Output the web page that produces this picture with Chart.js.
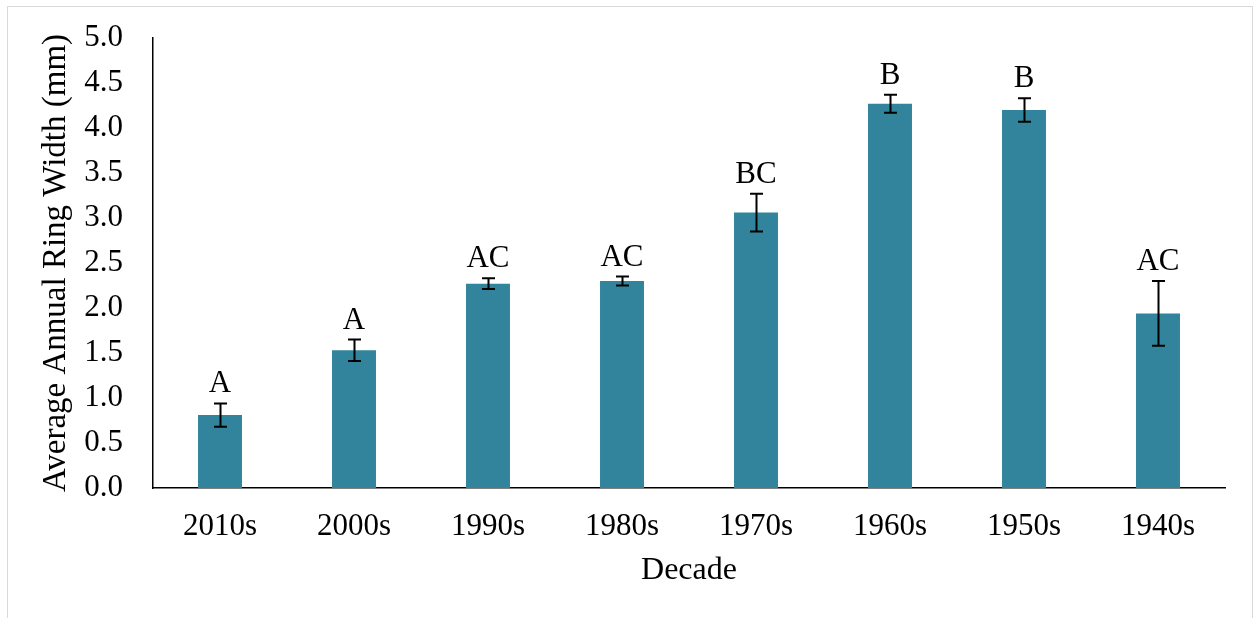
<!DOCTYPE html>
<html>
<head>
<meta charset="utf-8">
<script src="https://cdn.jsdelivr.net/npm/chart.js@4/dist/chart.umd.min.js"></script>
<style>
  html, body { margin: 0; padding: 0; background: #fff; overflow: hidden; }
  #wrap { position: relative; width: 1254px; height: 618px; }
  #frame { position: absolute; left: 7px; top: 6px; width: 1246px; height: 700px;
           border: 1px solid #d9d9d9; box-sizing: border-box; pointer-events: none; }
  canvas { position: absolute; left: 0; top: 0; }
</style>
</head>
<body>
<div id="wrap">
  <canvas id="c" width="1254" height="618"></canvas>
  <div id="frame"></div>
</div>
<script>
// Decades and mean ring widths (mm) with their error half-widths
const decades = ['2010s', '2000s', '1990s', '1980s', '1970s', '1960s', '1950s', '1940s'];
const meanWidth = [0.81, 1.53, 2.27, 2.30, 3.06, 4.27, 4.20, 1.94];
const errWidth = [0.13, 0.12, 0.06, 0.05, 0.21, 0.10, 0.13, 0.36];
// Significance groups shown above each bar
const groupLetters = ['A', 'A', 'AC', 'AC', 'BC', 'B', 'B', 'AC'];
const yTicks = [0, 0.5, 1, 1.5, 2, 2.5, 3, 3.5, 4, 4.5, 5];

const SERIF = '"Liberation Serif", "Times New Roman", serif';
const TICK_SIZE = 31;

// Plot rectangle inside the 1254x618 canvas
const PLOT = { left: 153, top: 38, right: 1225, bottom: 488 };

// Error bars and group letters, drawn from the bar elements and the y scale
const errorBarPlugin = {
  id: 'errorBars',
  afterDatasetsDraw(chart) {
    const { ctx, scales: { y } } = chart;
    const meta = chart.getDatasetMeta(0);
    ctx.save();
    ctx.strokeStyle = '#000';
    ctx.lineWidth = 2;
    ctx.fillStyle = '#000';
    ctx.font = TICK_SIZE + 'px ' + SERIF;
    ctx.textAlign = 'center';
    ctx.textBaseline = 'alphabetic';
    meta.data.forEach((bar, i) => {
      const x = Math.round(bar.x) + 0.5;
      const top = y.getPixelForValue(meanWidth[i] + errWidth[i]);
      const bot = y.getPixelForValue(meanWidth[i] - errWidth[i]);
      const cap = 6.5;
      ctx.beginPath();
      ctx.moveTo(x, top); ctx.lineTo(x, bot);
      ctx.moveTo(x - cap, top); ctx.lineTo(x + cap, top);
      ctx.moveTo(x - cap, bot); ctx.lineTo(x + cap, bot);
      ctx.stroke();
      ctx.fillText(groupLetters[i], bar.x, top - 11);
    });
    ctx.restore();
  }
};

new Chart(document.getElementById('c'), {
  type: 'bar',
  data: {
    labels: decades,
    datasets: [{
      data: meanWidth,
      backgroundColor: '#31849b',
      borderWidth: 0,
      barPercentage: 0.328,
      categoryPercentage: 1.0
    }]
  },
  options: {
    responsive: false,
    animation: false,
    devicePixelRatio: 1,
    layout: { autoPadding: false, padding: { left: 0, top: PLOT.top, right: 1254 - PLOT.right, bottom: 0 } },
    plugins: { legend: { display: false }, tooltip: { enabled: false } },
    scales: {
      x: {
        grid: { display: false, drawTicks: false },
        border: { display: true, color: '#000', width: 1.5 },
        ticks: { color: '#000', font: { family: SERIF, size: TICK_SIZE }, padding: 20, maxRotation: 0 },
        title: { display: true, text: 'Decade', color: '#000',
                 font: { family: SERIF, size: 32 }, padding: { top: 0, bottom: 28 } },
        afterFit(scale) { scale.height = 618 - PLOT.bottom; scale.paddingTop = 0; scale.paddingBottom = 0; }
      },
      y: {
        min: 0,
        max: 5,
        grid: { display: false, drawTicks: false },
        border: { display: true, color: '#000', width: 1.5 },
        afterBuildTicks(scale) { scale.ticks = yTicks.map(v => ({ value: v })); },
        ticks: { color: '#000', font: { family: SERIF, size: TICK_SIZE }, padding: 30,
                 callback: v => Number(v).toFixed(1) },
        title: { display: true, text: 'Average Annual Ring Width (mm)', color: '#000',
                 font: { family: SERIF, size: 33 }, padding: { top: 37, bottom: 0 } },
        afterFit(scale) { scale.width = PLOT.left; scale.paddingTop = 0; scale.paddingBottom = 0; }
      }
    }
  },
  plugins: [errorBarPlugin]
});
</script>
</body>
</html>
